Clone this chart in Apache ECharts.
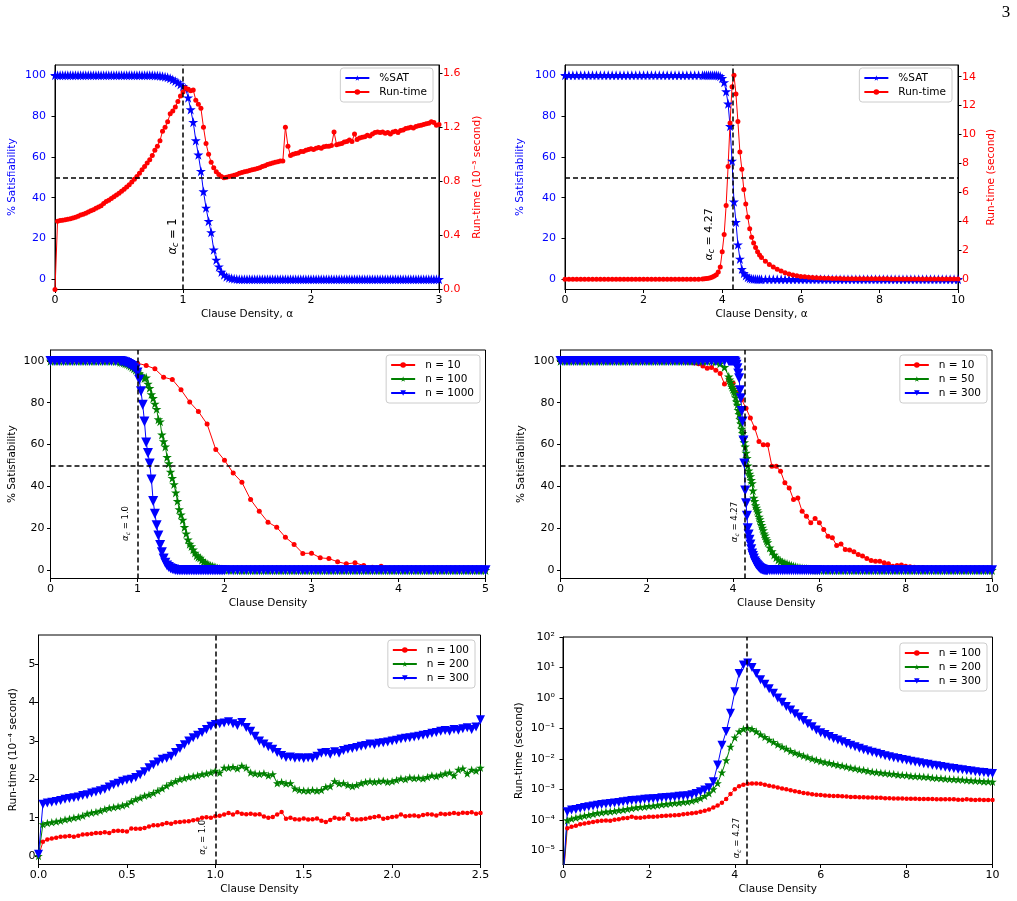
<!DOCTYPE html>
<html>
<head>
<meta charset="utf-8">
<script src="https://cdn.jsdelivr.net/npm/echarts@6/dist/echarts.min.js"></script>
<style>
  html, body { margin: 0; padding: 0; background: #fff; }
  #main { width: 1017px; height: 901px; }
</style>
</head>
<body>
<div id="main"></div>
<script>
// 采样网格（clause density）
function seq(a, b, step) {
  const n = Math.round((b - a) / step)
  const out = []
  for (let i = 0; i <= n; i++) out.push(+(a + i * step).toFixed(3))
  return out
}

// ---------- 图1：α 0..3 ----------
const p1Alpha = seq(0, 3, 0.02)
const p1Sat = [
  100,100,100,100,100,100,100,100,100,100,
  100,100,100,100,100,100,100,100,100,100,
  100,100,100,100,100,100,100,100,100,100,
  100,100,100,100,100,100,100,100,100,99.9,
  99.8,99.7,99.5,99.3,99,98.5,97.9,97.2,96.4,95.5,
  94.6,93.5,89,83.2,77,68,61,53,43,35,
  28.5,23,14.5,9.5,6.2,3.6,2.2,1.3,0.8,0.5,
  0.3,0.1,0,0,0,0,0,0,0,0,
  0,0,0,0,0,0,0,0,0,0,
  0,0,0,0,0,0,0,0,0,0,
  0,0,0,0,0,0,0,0,0,0,
  0,0,0,0,0,0,0,0,0,0,
  0,0,0,0,0,0,0,0,0,0,
  0,0,0,0,0,0,0,0,0,0,
  0,0,0,0,0,0,0,0,0,0,
  0
]
// run-time，单位 10^-3 s
const p1Time = [
  0,0.505,0.51,0.512,0.515,0.52,0.524,0.528,0.535,0.542,
  0.55,0.556,0.564,0.573,0.582,0.59,0.6,0.61,0.62,0.635,
  0.65,0.66,0.672,0.685,0.698,0.712,0.727,0.742,0.758,0.775,
  0.795,0.815,0.835,0.86,0.885,0.91,0.935,0.96,0.99,1.03,
  1.06,1.1,1.17,1.2,1.24,1.3,1.32,1.35,1.39,1.43,
  1.46,1.49,1.48,1.47,1.475,1.4,1.37,1.34,1.2,1.08,
  1.0,0.94,0.9,0.87,0.85,0.835,0.827,0.83,0.835,0.84,
  0.845,0.85,0.86,0.865,0.87,0.875,0.88,0.885,0.89,0.895,
  0.9,0.91,0.915,0.925,0.93,0.935,0.94,0.945,0.95,0.95,
  1.2,1.06,0.99,1.0,1.005,1.01,1.02,1.02,1.03,1.035,
  1.04,1.035,1.045,1.05,1.045,1.055,1.06,1.06,1.065,1.165,
  1.07,1.075,1.08,1.09,1.095,1.105,1.095,1.15,1.11,1.12,
  1.125,1.13,1.14,1.135,1.15,1.16,1.165,1.16,1.165,1.155,
  1.16,1.15,1.165,1.17,1.16,1.175,1.18,1.19,1.195,1.2,
  1.195,1.205,1.21,1.215,1.22,1.225,1.23,1.24,1.235,1.215,
  1.22
]

// ---------- 图2：α 0..10 ----------
const p2Alpha = [...seq(0, 3.5, 0.1), ...seq(3.55, 5, 0.05), ...seq(5.1, 10, 0.1)]
const p2Sat = [
  100,100,100,100,100,100,100,100,100,100,
  100,100,100,100,100,100,100,100,100,100,
  100,100,100,100,100,100,100,100,100,100,
  100,100,100,100,100,100,
  100,100,100,100,100,100,100,99.8,99.5,
  98.5,96.5,92,86,75,58,38,28,17,10,5,
  3,1.8,1.0,0.5,0.3,0.2,0.1,0,0,0,
  0,0,0,0,0,0,0,0,0,0,
  0,0,0,0,0,0,0,0,0,0,
  0,0,0,0,0,0,0,0,0,0,
  0,0,0,0,0,0,0,0,0,0,
  0,0,0,0,0,0,0,0,0,0
]
// run-time，单位 s
const p2Time = [
  0,0,0,0,0,0,0,0,0,0,
  0,0,0,0,0,0,0,0,0,0,
  0,0,0,0,0,0,0,0,0,0,
  0,0,0,0,0.01,0.02,
  0.03,0.05,0.07,0.1,0.15,0.22,0.32,0.5,0.85,
  1.9,3.1,5.1,7.8,10.8,13.3,14.1,12.8,10.9,8.8,
  7.6,6.2,5.2,4.3,3.5,2.9,2.5,2.2,1.9,1.68,
  1.5,
  1.25,1.02,0.85,0.7,0.57,0.45,0.37,0.3,0.25,0.2,
  0.17,0.14,0.12,0.1,0.09,0.08,0.07,0.06,0.05,0.05,
  0.04,0.04,0.04,0.035,0.035,0.03,0.03,0.03,0.03,0.03,
  0.03,0.03,0.025,0.025,0.025,0.025,0.025,0.025,0.025,0.025,
  0.02,0.02,0.02,0.02,0.02,0.02,0.02,0.02,0.02,0.02
]

// ---------- 图3：α 0..5 ----------
const p3AlphaN10 = seq(0, 5, 0.1)
const p3N10 = [
  100,100,100,100,100,100,100,100,100,99.6,
  98.9,97.8,96.2,92.2,91.1,86.2,80.3,75.8,69.8,57.6,
  52.5,46.4,42,33.7,28.1,22.9,20.5,15.7,12.3,8,
  8.1,5.9,5.5,4.0,3.0,3.5,2.2,1.4,1.8,0.8,
  0.6,0.4,0.3,0.2,0.2,0.1,0.1,0.1,0,0,
  0
]
const p3Alpha = [...seq(0, 0.8, 0.05), ...seq(0.82, 2, 0.02), ...seq(2.05, 5, 0.05)]
const p3N100 = [
  100,100,100,100,100,100,100,100,100,100,
  100,100,100,100,100,99.8,99.5,
  99.3,99.1,98.8,98.5,98,97.5,97,96.3,95.6,94.9,
  94,93,92.5,91.7,92,89,87,84,82.2,79.5,
  77,72,71,64.7,61.5,59,54,51,47,44,
  41,37,33,29,26.5,24,20.5,17.5,14.6,12.5,
  11.4,9.8,8.3,7,6.3,5.9,4.8,4,3.5,2.9,
  2.4,2.1,1.9,1.5,1.2,0.9,0.6,0.4,0.3,0.2,
  0.1,0.1,0,0,0,0,0,0,0,0,
  0,0,0,0,0,0,0,0,0,0,
  0,0,0,0,0,0,0,0,0,0,
  0,0,0,0,0,0,0,0,0,0,
  0,0,0,0,0,0,0,0,0,0,
  0,0,0,0,0,0,0,0,0,0
]
const p3N1000 = [
  100,100,100,100,100,100,100,100,100,100,
  100,100,100,100,100,100,99.9,
  99.8,99.6,99.3,99,98.5,98,97.5,96.8,96,94.5,
  91,85.5,79,71,61,56,51,43.3,33,27,
  21.5,16.5,12,8.5,5.5,3.5,2.2,1.5,0.9,0.5,
  0.3,0.1,0,0,0,0,0,0,0,0,
  0,0,0,0,0,0,0,0,0,0,
  0,0,0,0,0,0,0,0,0,0,
  0,0,0,0,0,0,0,0,0,0,
  0,0,0,0,0,0,0,0,0,0,
  0,0,0,0,0,0,0,0,0,0,
  0,0,0,0,0,0,0,0,0,0,
  0,0,0,0,0,0,0,0,0,0,
  0,0,0,0,0,0,0,0,0,0
]

// ---------- 图4：α 0..10 ----------
const p4AlphaN10 = seq(0, 10, 0.1)
const p4N10 = [
  100,100,100,100,100,100,100,100,100,100,
  100,100,100,100,100,100,100,100,100,100,
  100,100,100,100,100,100,100,100,99.8,99.5,
  99.3,99,98.6,97.5,96.5,96.8,95.5,94,89,91.7,
  89.4,84.6,81.4,77.4,72.7,67.9,61.5,59.9,59.9,49.6,
  49.6,47.2,41.7,39.3,33.7,34.5,28.1,25.8,22.6,24.7,
  22.6,19.4,16.2,15.5,11.8,12.5,9.9,9.6,8.8,7.5,
  6.7,5.5,4.6,4.3,4.3,3.5,3,1.9,2.2,2.4,
  1.9,1.6,1.4,1.2,1.3,0.8,0.9,0.5,0.4,0.3,
  0.2,0.2,0.1,0.1,0.1,0,0,0,0,0,
  0
]
const p4Alpha = [...seq(0, 3.9, 0.1), ...seq(3.92, 4.8, 0.02), ...seq(4.85, 6, 0.05), ...seq(6.1, 10, 0.1)]
const p4N50 = [
  100,100,100,100,100,100,100,100,100,100,
  100,100,100,100,100,100,100,100,100,100,
  100,100,100,100,100,100,100,100,100,100,
  100,100,100,100,100,99.9,99.6,98.8,97,92.5,
  91,90,88.6,87.5,86.5,85.5,84.6,82.5,80.5,79,
  76.5,74.5,72,70,67.5,65.5,63,61,59,56,
  53.5,50,47.5,46,44.8,43,41.5,38,34.5,33,
  31,29.8,28.5,27.5,25.5,24.2,23,21.5,20.2,19,
  17.5,16.5,15.2,14.2,13.3,
  10.7,9,7.3,6,5,4.3,3.8,3.4,3,2.6,
  2.2,1.9,1.6,1.3,1.1,0.9,0.7,0.6,0.4,0.3,
  0.2,0.2,0.1,0.1,
  0,0,0,0,0,0,0,0,0,0,
  0,0,0,0,0,0,0,0,0,0,
  0,0,0,0,0,0,0,0,0,0,
  0,0,0,0,0,0,0,0,0,0
]
const p4N300 = [
  100,100,100,100,100,100,100,100,100,100,
  100,100,100,100,100,100,100,100,100,100,
  100,100,100,100,100,100,100,100,100,100,
  100,100,100,100,100,100,100,100,100,100,
  100,100,100,100,100,99.9,99.7,99.2,98.2,96.5,
  94,91.7,86,82.2,76,71,62,51,38,32,
  26,20,17,14.5,12.3,10,8,6.8,5.5,4.3,
  3.5,2.8,2.3,1.9,1.4,1,0.7,0.5,0.3,0.2,
  0.1,0.1,0,0,0,
  0,0,0,0,0,0,0,0,0,0,
  0,0,0,0,0,0,0,0,0,0,
  0,0,0,0,
  0,0,0,0,0,0,0,0,0,0,
  0,0,0,0,0,0,0,0,0,0,
  0,0,0,0,0,0,0,0,0,0,
  0,0,0,0,0,0,0,0,0,0
]

// ---------- 图5：α 0..2.5，run-time 10^-4 s ----------
const p5Alpha = seq(0, 2.5, 0.025)
const p5N100 = [
  0,0.37,0.43,0.46,0.48,0.5,0.51,0.52,0.5,0.53,
  0.56,0.57,0.58,0.6,0.6,0.62,0.6,0.65,0.66,0.65,
  0.64,0.72,0.71,0.71,0.73,0.77,0.8,0.8,0.83,0.86,
  0.84,0.88,0.89,0.9,0.91,0.93,0.95,1.0,1.01,1.0,
  1.04,1.05,1.08,1.12,1.08,1.14,1.1,1.09,1.1,1.08,
  1.09,1.03,1.0,1.02,1.08,1.15,0.97,1.0,0.96,0.95,
  0.98,0.95,0.96,0.98,0.92,0.89,0.94,1.0,0.97,0.98,
  1.09,0.96,0.95,0.96,0.97,1.0,1.02,1.04,0.97,0.99,
  1.02,1.03,1.08,1.04,1.05,1.06,1.04,1.07,1.09,1.08,
  1.06,1.1,1.09,1.1,1.12,1.1,1.13,1.12,1.14,1.1,
  1.12
]
const p5N200 = [
  0,0.83,0.86,0.88,0.9,0.92,0.95,0.97,1.0,1.02,
  1.05,1.1,1.13,1.15,1.18,1.22,1.25,1.27,1.29,1.32,
  1.35,1.42,1.48,1.52,1.57,1.6,1.64,1.7,1.76,1.83,
  1.9,1.95,2.0,2.03,2.06,2.08,2.1,2.13,2.15,2.18,
  2.22,2.17,2.3,2.3,2.32,2.28,2.35,2.3,2.18,2.15,
  2.14,2.16,2.1,2.13,1.9,1.93,1.89,1.9,1.76,1.72,
  1.71,1.7,1.72,1.7,1.72,1.8,1.82,1.95,1.89,1.9,
  1.85,1.82,1.85,1.9,1.93,1.95,1.93,1.95,1.96,1.93,
  1.95,1.98,2.02,2.0,2.05,2.03,2.04,2.02,2.06,2.1,
  2.08,2.12,2.15,2.18,2.1,2.25,2.28,2.15,2.25,2.22,
  2.3
]
const p5N300 = [
  0.05,1.35,1.38,1.4,1.42,1.45,1.48,1.5,1.52,1.54,
  1.58,1.6,1.64,1.67,1.7,1.74,1.8,1.86,1.9,1.95,
  1.98,2.0,2.05,2.12,2.2,2.3,2.38,2.45,2.52,2.55,
  2.6,2.7,2.8,2.9,3.0,3.08,3.15,3.22,3.3,3.38,
  3.43,3.45,3.47,3.5,3.45,3.4,3.48,3.35,3.25,3.12,
  3.0,2.92,2.85,2.78,2.7,2.62,2.57,2.58,2.55,2.56,
  2.54,2.56,2.55,2.6,2.68,2.7,2.65,2.72,2.68,2.75,
  2.78,2.8,2.83,2.86,2.88,2.92,2.9,2.94,2.95,2.97,
  3.0,3.02,3.05,3.07,3.08,3.1,3.12,3.15,3.17,3.2,
  3.22,3.25,3.27,3.25,3.3,3.28,3.32,3.34,3.3,3.36,
  3.55
]

// ---------- 图6：α 0..10，run-time 的 log10 ----------
const p6Alpha = seq(0, 10, 0.1)
const p6LogN100 = [
  -6,-4.28,-4.23,-4.2,-4.15,-4.12,-4.1,-4.07,-4.05,-4.03,
  -4.02,-4.03,-4.0,-3.98,-3.95,-3.94,-3.9,-3.93,-3.93,-3.92,
  -3.9,-3.9,-3.89,-3.88,-3.87,-3.86,-3.85,-3.84,-3.82,-3.8,
  -3.79,-3.77,-3.74,-3.7,-3.66,-3.6,-3.53,-3.44,-3.32,-3.15,
  -3.0,-2.9,-2.85,-2.82,-2.81,-2.81,-2.82,-2.85,-2.88,-2.91,
  -2.94,-2.97,-3.0,-3.03,-3.06,-3.09,-3.12,-3.14,-3.16,-3.18,
  -3.19,-3.2,-3.21,-3.22,-3.22,-3.23,-3.24,-3.25,-3.25,-3.26,
  -3.26,-3.27,-3.27,-3.28,-3.28,-3.29,-3.29,-3.3,-3.3,-3.3,
  -3.31,-3.31,-3.31,-3.32,-3.32,-3.32,-3.32,-3.33,-3.33,-3.33,
  -3.33,-3.33,-3.34,-3.34,-3.33,-3.34,-3.35,-3.34,-3.35,-3.35,
  -3.35
]
const p6LogN200 = [
  -6,-4.02,-3.97,-3.93,-3.9,-3.87,-3.84,-3.81,-3.78,-3.76,
  -3.74,-3.73,-3.71,-3.69,-3.67,-3.65,-3.62,-3.6,-3.58,-3.57,
  -3.55,-3.54,-3.52,-3.5,-3.48,-3.47,-3.45,-3.44,-3.42,-3.41,
  -3.38,-3.34,-3.29,-3.22,-3.13,-3.0,-2.8,-2.45,-2.05,-1.6,
  -1.3,-1.1,-1.02,-0.99,-1.02,-1.1,-1.2,-1.28,-1.37,-1.45,
  -1.53,-1.6,-1.67,-1.74,-1.8,-1.85,-1.9,-1.95,-2.0,-2.04,
  -2.08,-2.11,-2.14,-2.17,-2.2,-2.23,-2.26,-2.29,-2.32,-2.35,
  -2.37,-2.4,-2.42,-2.44,-2.46,-2.47,-2.49,-2.5,-2.52,-2.53,
  -2.54,-2.56,-2.57,-2.58,-2.59,-2.6,-2.62,-2.63,-2.64,-2.65,
  -2.66,-2.67,-2.68,-2.69,-2.7,-2.71,-2.72,-2.73,-2.74,-2.74,
  -2.75
]
const p6LogN300 = [
  -6,-3.74,-3.68,-3.66,-3.63,-3.6,-3.57,-3.55,-3.52,-3.5,
  -3.48,-3.47,-3.45,-3.43,-3.41,-3.39,-3.37,-3.36,-3.35,-3.33,
  -3.32,-3.31,-3.3,-3.28,-3.27,-3.26,-3.25,-3.23,-3.22,-3.21,
  -3.18,-3.14,-3.08,-3.02,-2.95,-2.75,-2.2,-1.55,-1.1,-0.5,
  0.2,0.8,1.08,1.15,1.0,0.8,0.6,0.45,0.3,0.15,
  0.0,-0.14,-0.28,-0.4,-0.52,-0.63,-0.74,-0.85,-0.95,-1.05,
  -1.14,-1.2,-1.27,-1.33,-1.38,-1.44,-1.5,-1.55,-1.6,-1.65,
  -1.7,-1.74,-1.78,-1.82,-1.86,-1.9,-1.93,-1.96,-1.99,-2.02,
  -2.05,-2.08,-2.1,-2.13,-2.16,-2.18,-2.21,-2.23,-2.25,-2.28,
  -2.3,-2.32,-2.34,-2.36,-2.38,-2.4,-2.42,-2.44,-2.45,-2.47,
  -2.48
]

// 刻度
const ticksSat = [0, 20, 40, 60, 80, 100]
const ticksP1Time = [0, 0.4, 0.8, 1.2, 1.6]
const ticksP2Time = [0, 2, 4, 6, 8, 10, 12, 14]
const ticksX3 = [0, 1, 2, 3]
const ticksX5 = [0, 1, 2, 3, 4, 5]
const ticksX10 = [0, 2, 4, 6, 8, 10]
const ticksX25 = [0, 0.5, 1, 1.5, 2, 2.5]
const ticksP5 = [0, 1, 2, 3, 4, 5]
const ticksP6 = [1e-5, 1e-4, 1e-3, 1e-2, 1e-1, 1, 10, 100]

const FONT = 'DejaVu Sans'
const BLUE = '#0000ff', RED = '#ff0000', GREEN = '#008000'
const STAR = 'path://M0,-10L2.25,-3.09L9.51,-3.09L3.63,1.18L5.88,8.09L0,3.82L-5.88,8.09L-3.63,1.18L-9.51,-3.09L-2.25,-3.09Z'
const SUP = {'-': '⁻', '0': '⁰', '1': '¹', '2': '²', '3': '³', '4': '⁴', '5': '⁵', '6': '⁶', '7': '⁷', '8': '⁸', '9': '⁹'}
const pow10 = v => '10' + String(Math.round(Math.log10(v))).split('').map(c => SUP[c]).join('')
const plain = v => String(v)
const oneDec = v => v.toFixed(1)

function xAxisOf(gridIndex, min, max, ticks, fmt, name) {
  return {
    type: 'value', gridIndex, min, max,
    name, nameLocation: 'middle', nameGap: 19,
    nameTextStyle: {fontFamily: FONT, fontSize: 10.5, color: '#000'},
    axisLine: {show: true, onZero: false, lineStyle: {color: '#000', width: 1}},
    axisTick: {show: true, inside: false, length: 3.5, customValues: ticks, lineStyle: {color: '#000', width: 1}},
    axisLabel: {customValues: ticks, formatter: fmt, margin: 5.5, fontFamily: FONT, fontSize: 11, color: '#000'},
    splitLine: {show: false}
  }
}

function yAxisOf(gridIndex, o) {
  return {
    type: o.type || 'value', logBase: 10, gridIndex, min: o.min, max: o.max,
    position: o.position || 'left',
    name: o.name, nameLocation: 'middle', nameGap: o.gap,
    nameTextStyle: {fontFamily: FONT, fontSize: 10.5, color: o.color || '#000'},
    axisLine: {show: true, onZero: false, lineStyle: {color: '#000', width: 1}},
    axisTick: {show: true, inside: false, length: 3.5, customValues: o.ticks, lineStyle: {color: '#000', width: 1}},
    axisLabel: {customValues: o.ticks, formatter: o.fmt || plain, margin: o.margin, fontFamily: FONT, fontSize: 11, color: o.color || '#000'},
    splitLine: {show: false}
  }
}

function line(name, xi, yi, xs, ys, color, symbol, size, rotate) {
  return {
    name, type: 'line', xAxisIndex: xi, yAxisIndex: yi,
    data: xs.map((x, i) => [x, ys[i]]),
    symbol, symbolSize: size, symbolRotate: rotate || 0, showSymbol: true,
    lineStyle: {color, width: 1},
    itemStyle: {color, borderWidth: 0},
    silent: true, z: 3
  }
}

// 虚线：α_c 竖线 + 50% 横线
function guides(xi, yi, xVal, yVal) {
  const data = [{xAxis: xVal}]
  if (yVal != null) data.push({yAxis: yVal})
  return {
    type: 'line', xAxisIndex: xi, yAxisIndex: yi, data: [], z: 6, silent: true,
    markLine: {
      symbol: 'none', silent: true, animation: false, label: {show: false},
      lineStyle: {color: '#000', type: [5, 3], width: 1.5}, data
    }
  }
}

function legendOf(names, right, top) {
  return {
    data: names, right, top, orient: 'vertical',
    padding: [4, 6, 4, 4], itemGap: 2, itemWidth: 24, itemHeight: 7,
    borderColor: '#cccccc', borderWidth: 1, borderRadius: 3,
    backgroundColor: 'rgba(255,255,255,0.8)',
    textStyle: {fontFamily: FONT, fontSize: 10.5, color: '#000', lineHeight: 12, padding: [0, 0, 0, 5]},
    formatter: n => n.replace(/\u200b/g, ''),
    selectedMode: false
  }
}

const gridBase = {show: true, borderColor: '#000', borderWidth: 1, backgroundColor: '#fff', containLabel: false, outerBoundsMode: 'none'}

const option = {
  animation: false,
  backgroundColor: '#fff',
  textStyle: {fontFamily: FONT},
  grid: [
    {left: 55, top: 65, width: 384, height: 224.5},
    {left: 565, top: 65, width: 393, height: 224.5},
    {left: 50.5, top: 350, width: 435, height: 228.5},
    {left: 560.5, top: 350, width: 431.5, height: 228.5},
    {left: 38.5, top: 635, width: 442, height: 229.5},
    {left: 563, top: 637, width: 429.5, height: 227.5}
  ].map(g => Object.assign({}, gridBase, g)),
  xAxis: [
    xAxisOf(0, 0, 3, ticksX3, plain, 'Clause Density, α'),
    xAxisOf(1, 0, 10, ticksX10, plain, 'Clause Density, α'),
    xAxisOf(2, 0, 5, ticksX5, plain, 'Clause Density'),
    xAxisOf(3, 0, 10, ticksX10, plain, 'Clause Density'),
    xAxisOf(4, 0, 2.5, ticksX25, oneDec, 'Clause Density'),
    xAxisOf(5, 0, 10, ticksX10, plain, 'Clause Density')
  ],
  yAxis: [
    yAxisOf(0, {min: -5, max: 105, ticks: ticksSat, name: '% Satisfiability', color: BLUE, gap: 37, margin: 9}),
    yAxisOf(0, {min: 0, max: 1.66, ticks: ticksP1Time, fmt: oneDec, name: 'Run-time (10⁻³ second)', color: RED, gap: 33, position: 'right', margin: 4}),
    yAxisOf(1, {min: -5, max: 105, ticks: ticksSat, name: '% Satisfiability', color: BLUE, gap: 39, margin: 9}),
    yAxisOf(1, {min: -0.705, max: 14.805, ticks: ticksP2Time, name: 'Run-time (second)', color: RED, gap: 28, position: 'right', margin: 4}),
    yAxisOf(2, {min: -4, max: 105.2, ticks: ticksSat, name: '% Satisfiability', gap: 33, margin: 6}),
    yAxisOf(3, {min: -4, max: 105.2, ticks: ticksSat, name: '% Satisfiability', gap: 34, margin: 6}),
    yAxisOf(4, {min: -0.22, max: 5.76, ticks: ticksP5, name: 'Run-time (10⁻⁴ second)', gap: 20, margin: 3}),
    yAxisOf(5, {type: 'log', min: 3.4e-6, max: 100, ticks: ticksP6, fmt: pow10, name: 'Run-time (second)', gap: 38, margin: 8})
  ],
  legend: [
    legendOf(['%SAT', 'Run-time'], 584, 68),
    legendOf(['%SAT\u200b', 'Run-time\u200b'], 65, 68),
    legendOf(['n = 10', 'n = 100', 'n = 1000'], 537, 355),
    legendOf(['n = 10\u200b', 'n = 50', 'n = 300'], 30, 355),
    legendOf(['n = 100\u200b', 'n = 200', 'n = 300\u200b'], 542, 640),
    legendOf(['n = 100\u200b\u200b', 'n = 200\u200b', 'n = 300\u200b\u200b'], 30, 643)
  ],
  series: [
    line('%SAT', 0, 0, p1Alpha, p1Sat, BLUE, STAR, 10),
    line('Run-time', 0, 1, p1Alpha, p1Time, RED, 'circle', 5),
    guides(0, 0, 1, 50),

    line('%SAT\u200b', 1, 2, p2Alpha, p2Sat, BLUE, STAR, 10),
    line('Run-time\u200b', 1, 3, p2Alpha, p2Time, RED, 'circle', 5),
    guides(1, 2, 4.27, 50),

    line('n = 10', 2, 4, p3AlphaN10, p3N10, RED, 'circle', 5),
    line('n = 100', 2, 4, p3Alpha, p3N100, GREEN, STAR, 9.5),
    line('n = 1000', 2, 4, p3Alpha, p3N1000, BLUE, 'triangle', 10, 180),
    guides(2, 4, 1, 50),

    line('n = 10\u200b', 3, 5, p4AlphaN10, p4N10, RED, 'circle', 5),
    line('n = 50', 3, 5, p4Alpha, p4N50, GREEN, STAR, 9.5),
    line('n = 300', 3, 5, p4Alpha, p4N300, BLUE, 'triangle', 10, 180),
    guides(3, 5, 4.27, 50),

    line('n = 100\u200b', 4, 6, p5Alpha, p5N100, RED, 'circle', 4.5),
    line('n = 200', 4, 6, p5Alpha, p5N200, GREEN, STAR, 8.5),
    line('n = 300\u200b', 4, 6, p5Alpha, p5N300, BLUE, 'triangle', 9, 180),
    guides(4, 6, 1, null),

    line('n = 100\u200b\u200b', 5, 7, p6Alpha, p6LogN100.map(e => 10 ** e), RED, 'circle', 4.5),
    line('n = 200\u200b', 5, 7, p6Alpha, p6LogN200.map(e => 10 ** e), GREEN, STAR, 8.5),
    line('n = 300\u200b\u200b', 5, 7, p6Alpha, p6LogN300.map(e => 10 ** e), BLUE, 'triangle', 9, 180),
    guides(5, 7, 4.27, null)
  ]
}

const myChart = echarts.init(document.getElementById('main'), null, {renderer: 'canvas'})
myChart.setOption(option)

// α_c 标注（竖排文字，放在虚线左侧）
function alphaLabel(xi, yi, x, y, val, fs) {
  const p = myChart.convertToPixel({xAxisIndex: xi, yAxisIndex: yi}, [x, y])
  return {
    type: 'text', x: p[0], y: p[1], rotation: Math.PI / 2, z: 10, silent: true,
    style: {
      text: '{a|α}{s|c}{b| = ' + val + '}',
      align: 'center', verticalAlign: 'middle', fill: '#000',
      rich: {
        a: {fontSize: fs, fontFamily: FONT, fontStyle: 'italic', lineHeight: fs + 2, fill: '#000'},
        s: {fontSize: Math.round(fs * 0.7), fontFamily: FONT, fontStyle: 'italic', lineHeight: 5, verticalAlign: 'bottom', fill: '#000'},
        b: {fontSize: fs, fontFamily: FONT, lineHeight: fs + 2, fill: '#000'}
      }
    }
  }
}

myChart.setOption({
  graphic: [
    alphaLabel(0, 0, 0.92, 21, '1', 11.5),
    alphaLabel(1, 2, 3.68, 22, '4.27', 11),
    alphaLabel(2, 4, 0.87, 22.3, '1.0', 8.5),
    alphaLabel(3, 5, 4.04, 23, '4.27', 8.5),
    alphaLabel(4, 6, 0.93, 0.49, '1.0', 8.5),
    alphaLabel(5, 7, 4.05, 2.5e-5, '4.27', 8.5),
    {
      type: 'text', x: 1006, y: 13, silent: true,
      style: {text: '3', fontFamily: 'Liberation Serif', fontSize: 17, fill: '#000', align: 'center', verticalAlign: 'middle'}
    }
  ]
})

window.addEventListener('resize', function () {
  myChart.resize()
})
</script>
</body>
</html>
